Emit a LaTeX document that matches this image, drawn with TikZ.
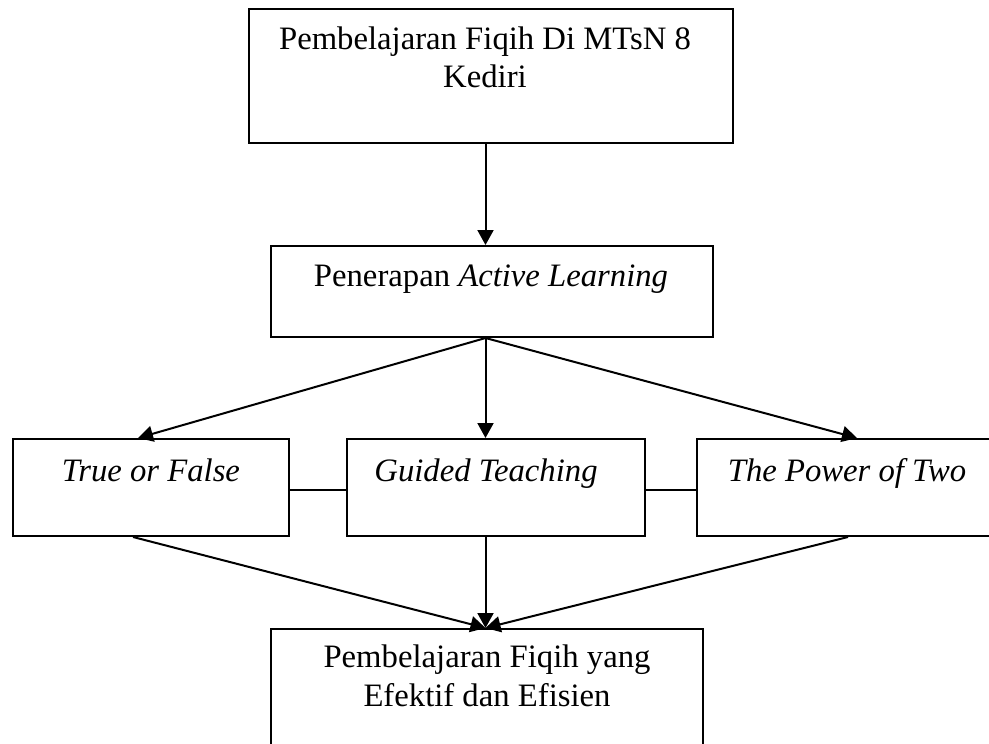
\documentclass[tikz,border=0pt]{standalone}
\usepackage{fontspec}
\setmainfont{Liberation Serif}
\usetikzlibrary{arrows.meta}
\begin{document}
\begin{tikzpicture}[x=1pt,y=-1pt,
  box/.style={draw=black,line width=2pt,minimum width=#1,inner sep=0pt},
  lbl/.style={anchor=base,inner sep=0pt,font=\fontsize{32.7}{38}\selectfont},
  arr/.style={line width=2pt,-{Triangle[length=15pt,width=16pt]}},
  ln/.style={line width=2pt}]
\useasboundingbox (0,0) rectangle (989,744);
% boxes
\node[box=484pt,minimum height=134pt] (top) at (491,76) {};
\node[box=442pt,minimum height=91pt] (mid) at (492,291.5) {};
\node[box=276pt,minimum height=97pt] (tf) at (151,487.5) {};
\node[box=298pt,minimum height=97pt] (gt) at (496,487.5) {};
\node[box=300pt,minimum height=97pt] (pt) at (847,487.5) {};
\node[box=432pt,minimum height=134pt] (bot) at (487,696) {};
% texts
\node[lbl] (t1a) at (485,49) {Pembelajaran Fiqih Di MTsN 8};
\node[lbl] (t1b) at (485,87) {Kediri};
\node[lbl] (t2) at (491,286) {Penerapan \textit{Active Learning}};
\node[lbl] (t3) at (151,481) {\textit{True or False}};
\node[lbl] (t4) at (486,481) {\textit{Guided Teaching}};
\node[lbl] (t5) at (847,481) {\textit{The Power of Two}};
\node[lbl] (t6a) at (487,667) {Pembelajaran Fiqih yang};
\node[lbl] (t6b) at (487,706) {Efektif dan Efisien};
% helper coordinates
\coordinate (cx) at (485.5,0);
\coordinate (lx) at (138,0);
\coordinate (rx) at (857,0);
\coordinate (lbx) at (133,0);
\coordinate (rbx) at (848,0);
\coordinate (hy) at (0,490);
% connectors
\draw[arr] (top.south -| cx) -- (mid.north -| cx);
\draw[arr] (mid.south -| cx) -- (tf.north -| lx);
\draw[arr] (mid.south -| cx) -- (gt.north -| cx);
\draw[arr] (mid.south -| cx) -- (pt.north -| rx);
\draw[ln] (tf.east |- hy) -- (gt.west |- hy);
\draw[ln] (gt.east |- hy) -- (pt.west |- hy);
\draw[arr] (tf.south -| lbx) -- (bot.north -| cx);
\draw[arr] (gt.south -| cx) -- (bot.north -| cx);
\draw[arr] (pt.south -| rbx) -- (bot.north -| cx);
\end{tikzpicture}
\end{document}
